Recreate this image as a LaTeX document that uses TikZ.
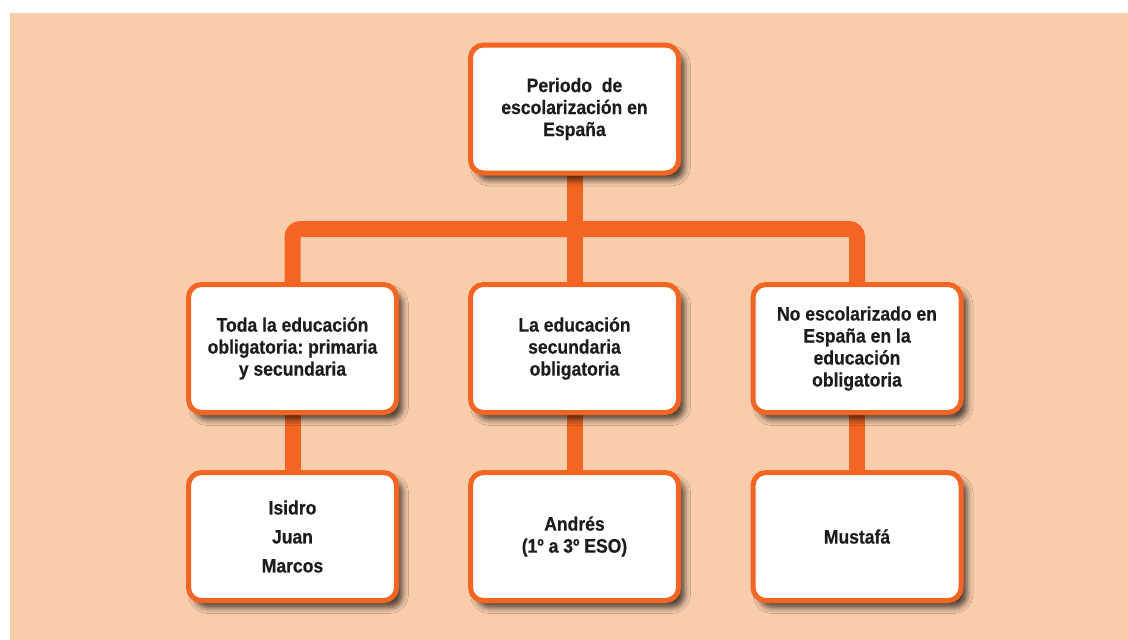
\documentclass[tikz,border=0pt]{standalone}
\usepackage{fontspec}
\setmainfont{Liberation Sans}[FakeStretch=0.9, BoldFeatures={FakeBold=0.4}]
\usetikzlibrary{shadows.blur}
\definecolor{peach}{HTML}{F9CDAC}
\definecolor{naranja}{HTML}{F26522}
\definecolor{tinta}{HTML}{1E1B1C}
\pgfdeclarelayer{fondo}
\pgfsetlayers{fondo,main}
\frenchspacing

\begin{document}
\begin{tikzpicture}[x=1pt, y=-1pt,
  caja/.style={draw=naranja, line width=5pt, fill=white, rounded corners=13pt,
    minimum width=208pt, minimum height=128pt, align=center, text=tinta,
    font=\fontsize{19.5}{22}\selectfont\bfseries,
    blur shadow={shadow xshift=6pt, shadow yshift=-7pt, shadow blur radius=6pt, shadow opacity=70}},
  barra/.style={draw=naranja, line width=16pt, rounded corners=8pt}]
\useasboundingbox (0,0) rectangle (1128,640);

%cajas
\node[caja] (periodo) at (574.5,109) {Periodo~ de\\escolarización en\\España};

\node[caja] (toda) at (292.5,348.5) {Toda la educación\\obligatoria: primaria\\y secundaria};
\node[caja] (secund) at (574.5,348.5) {La educación\\secundaria\\obligatoria};
\node[caja] (noesc) at (857,348.5) {No escolarizado en\\España en la\\educación\\obligatoria};

\node[caja, font=\fontsize{19.5}{29}\selectfont\bfseries] (isidro) at (292.5,536.5) {Isidro\\Juan\\Marcos};
\node[caja] (andres) at (574.5,536.5) {Andrés\\(1º a 3º ESO)};
\node[caja] (mustafa) at (857,536.5) {Mustafá};

\coordinate (nivel) at (0,229);
\coordinate (cruce) at (periodo.south |- nivel);

%fondo y conectores
\begin{pgfonlayer}{fondo}
  \fill[peach] (10,13) rectangle (1128,640);
  \draw[barra] (periodo.south) -- (secund.north);
  \draw[barra] (toda.north) |- (cruce) -| (noesc.north);
  \draw[barra] (toda.south) -- (isidro.north);
  \draw[barra] (secund.south) -- (andres.north);
  \draw[barra] (noesc.south) -- (mustafa.north);
\end{pgfonlayer}
\end{tikzpicture}
\end{document}
